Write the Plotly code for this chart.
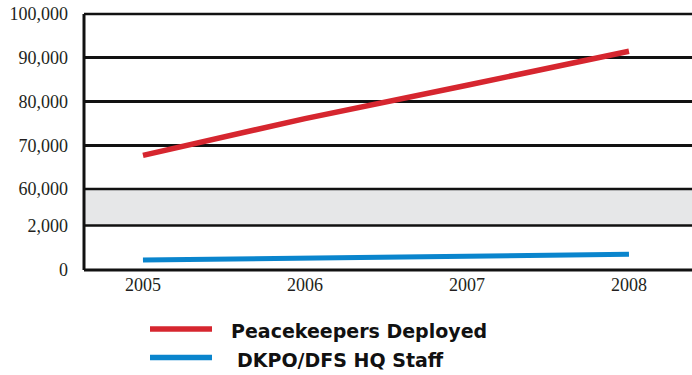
import plotly.graph_objects as go

years = [2005, 2006, 2007, 2008]
peacekeepers = [67700, 76100, 83700, 91500]
hq_staff = [450, 535, 620, 705]
upper_ticks = [60000, 70000, 80000, 90000, 100000]
lower_ticks = [0, 2000]
year_labels = ["2005", "2006", "2007", "2008"]
legend_names = ["Peacekeepers Deployed", "DKPO/DFS HQ Staff"]

RED = "#D6262F"
BLUE = "#0A85CD"
TICKFONT = dict(family="Liberation Serif, 'Times New Roman', Times, serif", size=18, color="#231F20")

W, H = 692, 375
L, R, T, B = 84, 0, 14, 105
ph = H - T - B  # plot height in px


def py(ypix):
    return (H - B - ypix) / ph


def px(xpix):
    return (xpix - L) / (W - L - R)


lower_top = py(225.5)
upper_bot = py(189)

fig = go.Figure()
fig.add_trace(go.Scatter(x=years, y=peacekeepers, xaxis="x", yaxis="y2", mode="lines",
                         line=dict(color=RED, width=5.5), showlegend=False, hoverinfo="skip"))
fig.add_trace(go.Scatter(x=years, y=hq_staff, xaxis="x", yaxis="y", mode="lines",
                         line=dict(color=BLUE, width=5), showlegend=False, hoverinfo="skip"))

shapes = [
    dict(type="rect", xref="paper", yref="paper", x0=0, x1=1, y0=lower_top, y1=upper_bot,
         fillcolor="#E6E7E8", line=dict(width=0), layer="below"),
    dict(type="line", xref="paper", yref="paper", x0=0, x1=1, y0=lower_top, y1=lower_top,
         line=dict(color="#111", width=2.5)),
    dict(type="line", xref="paper", yref="paper", x0=0, x1=1, y0=upper_bot, y1=upper_bot,
         line=dict(color="#111", width=2.5)),
    dict(type="line", xref="paper", yref="paper", x0=0, x1=1, y0=1, y1=1,
         line=dict(color="#111", width=2.5)),
    dict(type="line", xref="paper", yref="paper", x0=0, x1=0, y0=0, y1=1,
         line=dict(color="#111", width=3)),
    dict(type="line", xref="paper", yref="paper", x0=0, x1=1, y0=0, y1=0,
         line=dict(color="#111", width=3)),
]

# legend samples
leg_y = [py(329), py(357.5)]
leg_x_text = [px(229), px(235)]
annotations = []
for i, (name, col) in enumerate(zip(legend_names, [RED, BLUE])):
    shapes.append(dict(type="line", xref="paper", yref="paper", x0=px(150), x1=px(212),
                       y0=leg_y[i], y1=leg_y[i], line=dict(color=col, width=5.5)))
    annotations.append(dict(xref="paper", yref="paper", x=leg_x_text[i], y=py(331 + 28.5 * i),
                            text=f"<b>{name}</b>", showarrow=False, xanchor="left", yanchor="middle",
                            font=dict(family="DejaVu Sans", size=19, color="#111")))

fig.update_layout(
    width=W, height=H,
    margin=dict(l=L, r=R, t=T, b=B, pad=0),
    paper_bgcolor="white", plot_bgcolor="white",
    showlegend=False,
    xaxis=dict(range=[2004.636, 2008.389], tickvals=years, ticktext=year_labels,
               tickfont=TICKFONT, showgrid=False, zeroline=False, showline=False,
               ticks="", ticklabelstandoff=2, anchor="y"),
    yaxis=dict(domain=[0, lower_top], range=[0, 2000], tickvals=lower_ticks,
               ticktext=["0", "2,000"], tickfont=TICKFONT, showgrid=False, zeroline=False,
               showline=False, ticks="", ticklabelstandoff=15),
    yaxis2=dict(domain=[upper_bot, 1], range=[60000, 100000], tickvals=upper_ticks,
                ticktext=["60,000", "70,000", "80,000", "90,000", "100,000"], tickfont=TICKFONT,
                showgrid=True, gridcolor="#111", gridwidth=2.5, zeroline=False, showline=False,
                ticks="", ticklabelstandoff=15, anchor="x"),
    shapes=shapes,
    annotations=annotations,
)

fig.write_html("out.html")
